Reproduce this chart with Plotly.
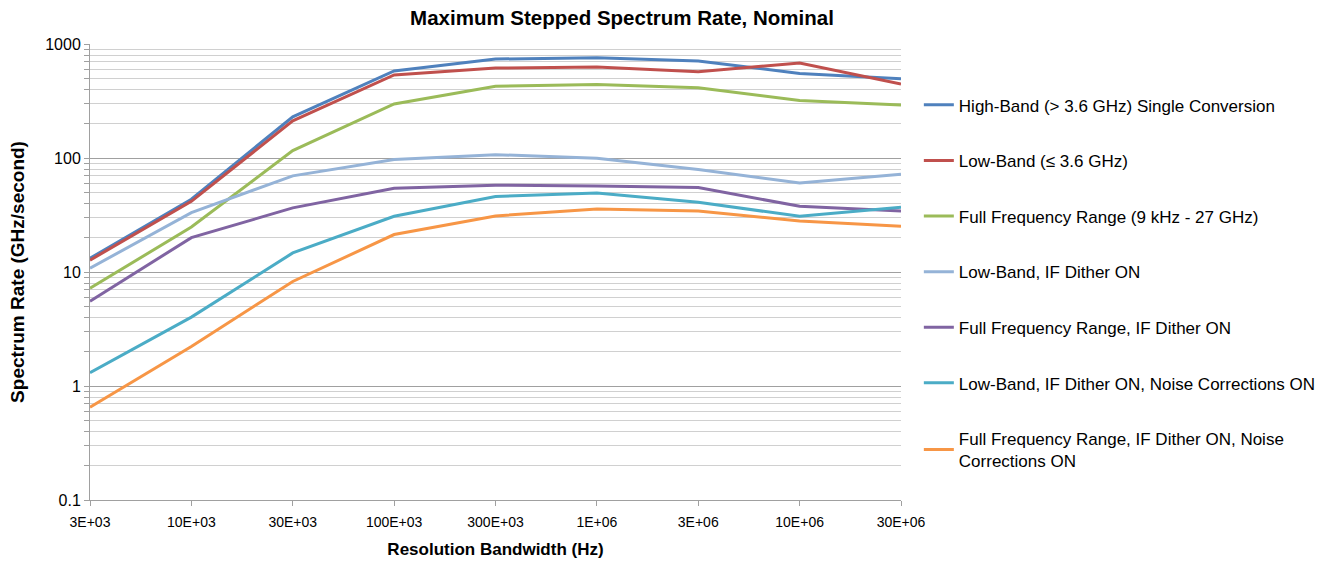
import plotly.graph_objects as go

categories = ["3E+03", "10E+03", "30E+03", "100E+03", "300E+03", "1E+06", "3E+06", "10E+06", "30E+06"]

high_band = [13.2, 43.5, 230, 580, 738, 758, 710, 552, 495]
low_band = [12.7, 41.7, 212, 535, 615, 628, 571, 681, 445]
full_range = [7.2, 24.8, 116, 298, 425, 442, 413, 320, 291]
low_band_dither = [10.8, 33.2, 69.7, 97, 107, 99.6, 79.3, 60.4, 72]
full_range_dither = [5.55, 20.0, 36.5, 54.3, 57.7, 56.9, 55.0, 37.7, 34.3]
low_band_dither_nc = [1.31, 4.02, 14.7, 30.8, 45.9, 49.3, 40.9, 30.8, 37.0]
full_range_dither_nc = [0.65, 2.22, 8.26, 21.3, 31.0, 35.7, 34.3, 28.0, 25.2]

series_names = [
    "High-Band (> 3.6 GHz) Single Conversion",
    "Low-Band (\u2264 3.6 GHz)",
    "Full Frequency Range (9 kHz - 27 GHz)",
    "Low-Band, IF Dither ON",
    "Full Frequency Range, IF Dither ON",
    "Low-Band, IF Dither ON, Noise Corrections ON",
    "Full Frequency Range, IF Dither ON, Noise<br>Corrections ON",
]
series_values = [high_band, low_band, full_range, low_band_dither,
                 full_range_dither, low_band_dither_nc, full_range_dither_nc]
colors = ["#4F81BD", "#C0504D", "#9BBB59", "#95B3D7", "#8064A2", "#4BACC6", "#F79646"]

FONT = "Liberation Sans Narrow, Arial Narrow, Liberation Sans, Arial, sans-serif"

fig = go.Figure()
xs = list(range(len(categories)))
for i, (name, vals, col) in enumerate(zip(series_names, series_values, colors)):
    fig.add_trace(go.Scatter(
        x=xs, y=vals, mode="lines", name=name,
        line=dict(color=col, width=3),
        legendgroup=f"g{i}",
    ))

fig.update_layout(
    width=1326, height=563,
    paper_bgcolor="white", plot_bgcolor="white",
    margin=dict(l=90, r=425, t=44, b=63, autoexpand=False),
    font=dict(family=FONT, size=15, color="#000000"),
    title=dict(text="<b>Maximum Stepped Spectrum Rate, Nominal</b>",
               x=622 / 1326, xanchor="center", y=1 - 18 / 563, yanchor="middle",
               font=dict(size=20.5, family=FONT, color="#000000")),
    showlegend=True,
    legend=dict(x=1.022, xanchor="left", y=0.905, yanchor="top",
                font=dict(size=17, family=FONT, color="#000000"),
                tracegroupgap=30.5, itemwidth=30,
                bgcolor="rgba(0,0,0,0)"),
)

fig.update_xaxes(
    range=[0, 8], tickmode="array", tickvals=xs, ticktext=categories,
    showgrid=False, zeroline=False, automargin=False,
    showline=True, linecolor="#A0A0A0", linewidth=1,
    ticks="outside", ticklen=5, tickcolor="#A0A0A0",
    ticklabelstandoff=4,
    tickfont=dict(size=14, family=FONT, color="#000000"),
    title=dict(text="<b>Resolution Bandwidth (Hz)</b>", standoff=14,
               font=dict(size=17, family=FONT, color="#000000")),
)

fig.update_yaxes(
    type="log", range=[-1, 3], dtick=1, automargin=False,
    tickvals=[0.1, 1, 10, 100, 1000], ticktext=["0.1", "1", "10", "100", "1000"],
    showgrid=True, gridcolor="#A0A0A0", gridwidth=1,
    zeroline=False, showline=True, linecolor="#A0A0A0", linewidth=1,
    ticks="outside", ticklen=5, tickcolor="#A0A0A0",
    tickfont=dict(size=16, family=FONT, color="#000000"),
    minor=dict(tickvals=[m * 10 ** e for e in range(-1, 3) for m in range(2, 10)],
               showgrid=True, gridcolor="#D0D0D0", gridwidth=1,
               ticks="outside", ticklen=5, tickcolor="#A0A0A0"),
    title=dict(text="<b>Spectrum Rate (GHz/second)</b>", standoff=15,
               font=dict(size=19, family=FONT, color="#000000")),
)

fig.write_html("out.html", config={"displayModeBar": False},
               post_script="document.body.style.margin='0';")
